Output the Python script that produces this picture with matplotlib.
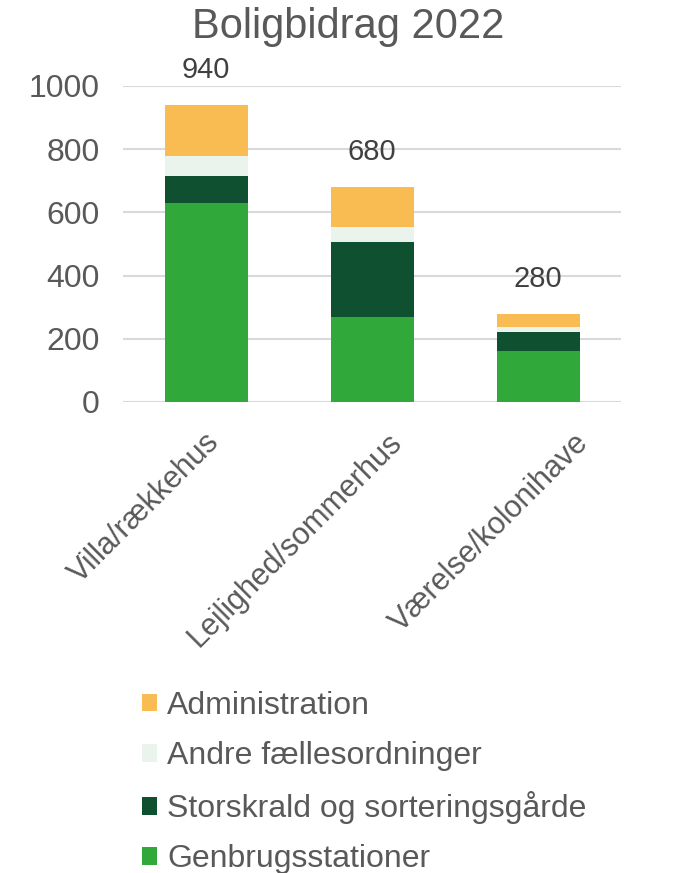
import matplotlib.pyplot as plt
import matplotlib.transforms as mtransforms
import numpy as np

# data
categories = ['Villa/rækkehus', 'Lejlighed/sommerhus', 'Værelse/kolonihave']
genbrugsstationer = [630, 270, 160]
storskrald = [85, 235, 63]
andre = [65, 50, 15]
administration = [160, 125, 42]
totals = [940, 680, 280]

series_names = ['Genbrugsstationer', 'Storskrald og sorteringsgårde',
                'Andre fællesordninger', 'Administration']
series_values = [genbrugsstationer, storskrald, andre, administration]
colors = ['#31A83A', '#0F5030', '#EAF3EC', '#F8BC52']

TEXT = '#595959'
plt.rcParams['font.family'] = ['Liberation Sans', 'DejaVu Sans']

fig = plt.figure(figsize=(6.81, 8.73), dpi=100)
ax = fig.add_axes([123 / 681, 1 - 402 / 873, 498 / 681, 316 / 873])

x = np.arange(len(categories))
bottom = np.zeros(len(categories))
handles = []
for name, vals, col in zip(series_names, series_values, colors):
    b = ax.bar(x, vals, width=0.5, bottom=bottom, color=col, label=name, zorder=3)
    handles.append(b)
    bottom += np.array(vals)

for xi, tot in zip(x, totals):
    ax.annotate(str(tot), (xi, tot), xytext=(0, 15), textcoords='offset points',
                ha='center', va='bottom', fontsize=21, color='#404040')

ax.set_xlim(-0.5, 2.5)
ax.set_ylim(0, 1000)
ax.set_yticks(range(0, 1001, 200))
ax.yaxis.grid(True, color='#D9D9D9', linewidth=1.5, zorder=0)
ax.set_axisbelow(True)
for s in ax.spines.values():
    s.set_visible(False)
ax.tick_params(axis='both', length=0, colors=TEXT)
ax.tick_params(axis='y', pad=17, labelsize=23)

ax.set_xticks(x)
ax.set_xticklabels(categories, rotation=45, ha='right', va='center',
                   rotation_mode='anchor', fontsize=22)
ax.tick_params(axis='x', pad=26)
# excel spreads the rotated labels a bit wider than the ticks
label_shift_px = [9, 25, 46]
for lbl, dx in zip(ax.get_xticklabels(), label_shift_px):
    offset = mtransforms.ScaledTranslation(dx / 100, 0, fig.dpi_scale_trans)
    lbl.set_transform(lbl.get_transform() + offset)

fig.text(348 / 681, 1 - 27 / 873, 'Boligbidrag 2022', ha='center', va='center',
         fontsize=30, color=TEXT)

fig.legend(handles[::-1], series_names[::-1], loc='upper left',
           bbox_to_anchor=(142 / 681, 1 - 691 / 873), frameon=False,
           fontsize=23, labelcolor=TEXT, handlelength=0.47, handleheight=0.47,
           handletextpad=0.31, labelspacing=0.63, borderpad=0, borderaxespad=0)

fig.savefig('out.png', dpi=100)
